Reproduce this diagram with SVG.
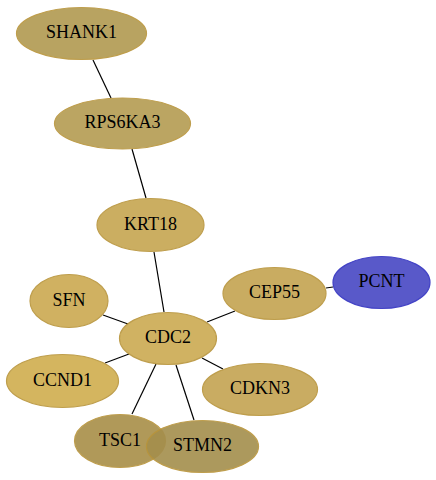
<svg xmlns="http://www.w3.org/2000/svg" width="436" height="480" viewBox="0 0 436 480">
<style>
.e{stroke:#000;stroke-width:1.2;fill:none}
.n{stroke-width:1.2;opacity:0.9}
.g{stroke:#b8943a}
.t{font-family:"Liberation Serif","Times New Roman",serif;font-size:18px;text-anchor:middle;fill:#000}
</style>
<rect width="436" height="480" fill="#fff"/>
<g id="edges">
<line class="e" x1="93" y1="60" x2="111" y2="98"/>
<line class="e" x1="132" y1="149" x2="146" y2="198"/>
<line class="e" x1="154" y1="252" x2="164" y2="312"/>
<line class="e" x1="103" y1="315" x2="128" y2="324"/>
<line class="e" x1="235" y1="311" x2="207" y2="322"/>
<line class="e" x1="326" y1="288" x2="333" y2="287"/>
<line class="e" x1="105" y1="363" x2="129" y2="354"/>
<line class="e" x1="223" y1="369" x2="202" y2="358"/>
<line class="e" x1="132" y1="414" x2="156" y2="364"/>
<line class="e" x1="194" y1="420" x2="176" y2="365"/>
</g>
<g id="SHANK1"><ellipse class="n g" cx="81.5" cy="33.5" rx="65" ry="26" fill="#b19a50"/><text class="t" x="81.5" y="38">SHANK1</text></g>
<g id="RPS6KA3"><ellipse class="n g" cx="122.5" cy="123.5" rx="68" ry="25.5" fill="#b49c52"/><text class="t" x="122.5" y="128">RPS6KA3</text></g>
<g id="KRT18"><ellipse class="n g" cx="150.5" cy="225" rx="53.5" ry="26.5" fill="#c6a650"/><text class="t" x="150.5" y="229.5">KRT18</text></g>
<g id="SFN"><ellipse class="n g" cx="69" cy="301" rx="39" ry="26.5" fill="#cba950"/><text class="t" x="69" y="305.5">SFN</text></g>
<g id="CEP55"><ellipse class="n g" cx="274.5" cy="293.5" rx="51.5" ry="26" fill="#c4a450"/><text class="t" x="274.5" y="298">CEP55</text></g>
<g id="PCNT"><ellipse class="n" cx="381.5" cy="282.5" rx="48.5" ry="26" fill="#4848c4" stroke="#3030c0"/><text class="t" x="381.5" y="287">PCNT</text></g>
<g id="CDC2"><ellipse class="n g" cx="168" cy="338.5" rx="48.5" ry="26" fill="#cbaa52"/><text class="t" x="168" y="343">CDC2</text></g>
<g id="CCND1"><ellipse class="n g" cx="62.5" cy="381" rx="56" ry="26.5" fill="#d0ae4e"/><text class="t" x="62.5" y="385.5">CCND1</text></g>
<g id="CDKN3"><ellipse class="n g" cx="260" cy="389.5" rx="57.5" ry="26" fill="#c4a452"/><text class="t" x="260" y="394">CDKN3</text></g>
<g id="TSC1"><ellipse class="n g" cx="120" cy="441" rx="45.5" ry="26.5" fill="#a88e48"/><text class="t" x="120" y="445.5">TSC1</text></g>
<g id="STMN2"><ellipse class="n g" cx="202.5" cy="446.5" rx="56" ry="26" fill="#a48e4c"/><text class="t" x="202.5" y="451">STMN2</text></g>
</svg>
